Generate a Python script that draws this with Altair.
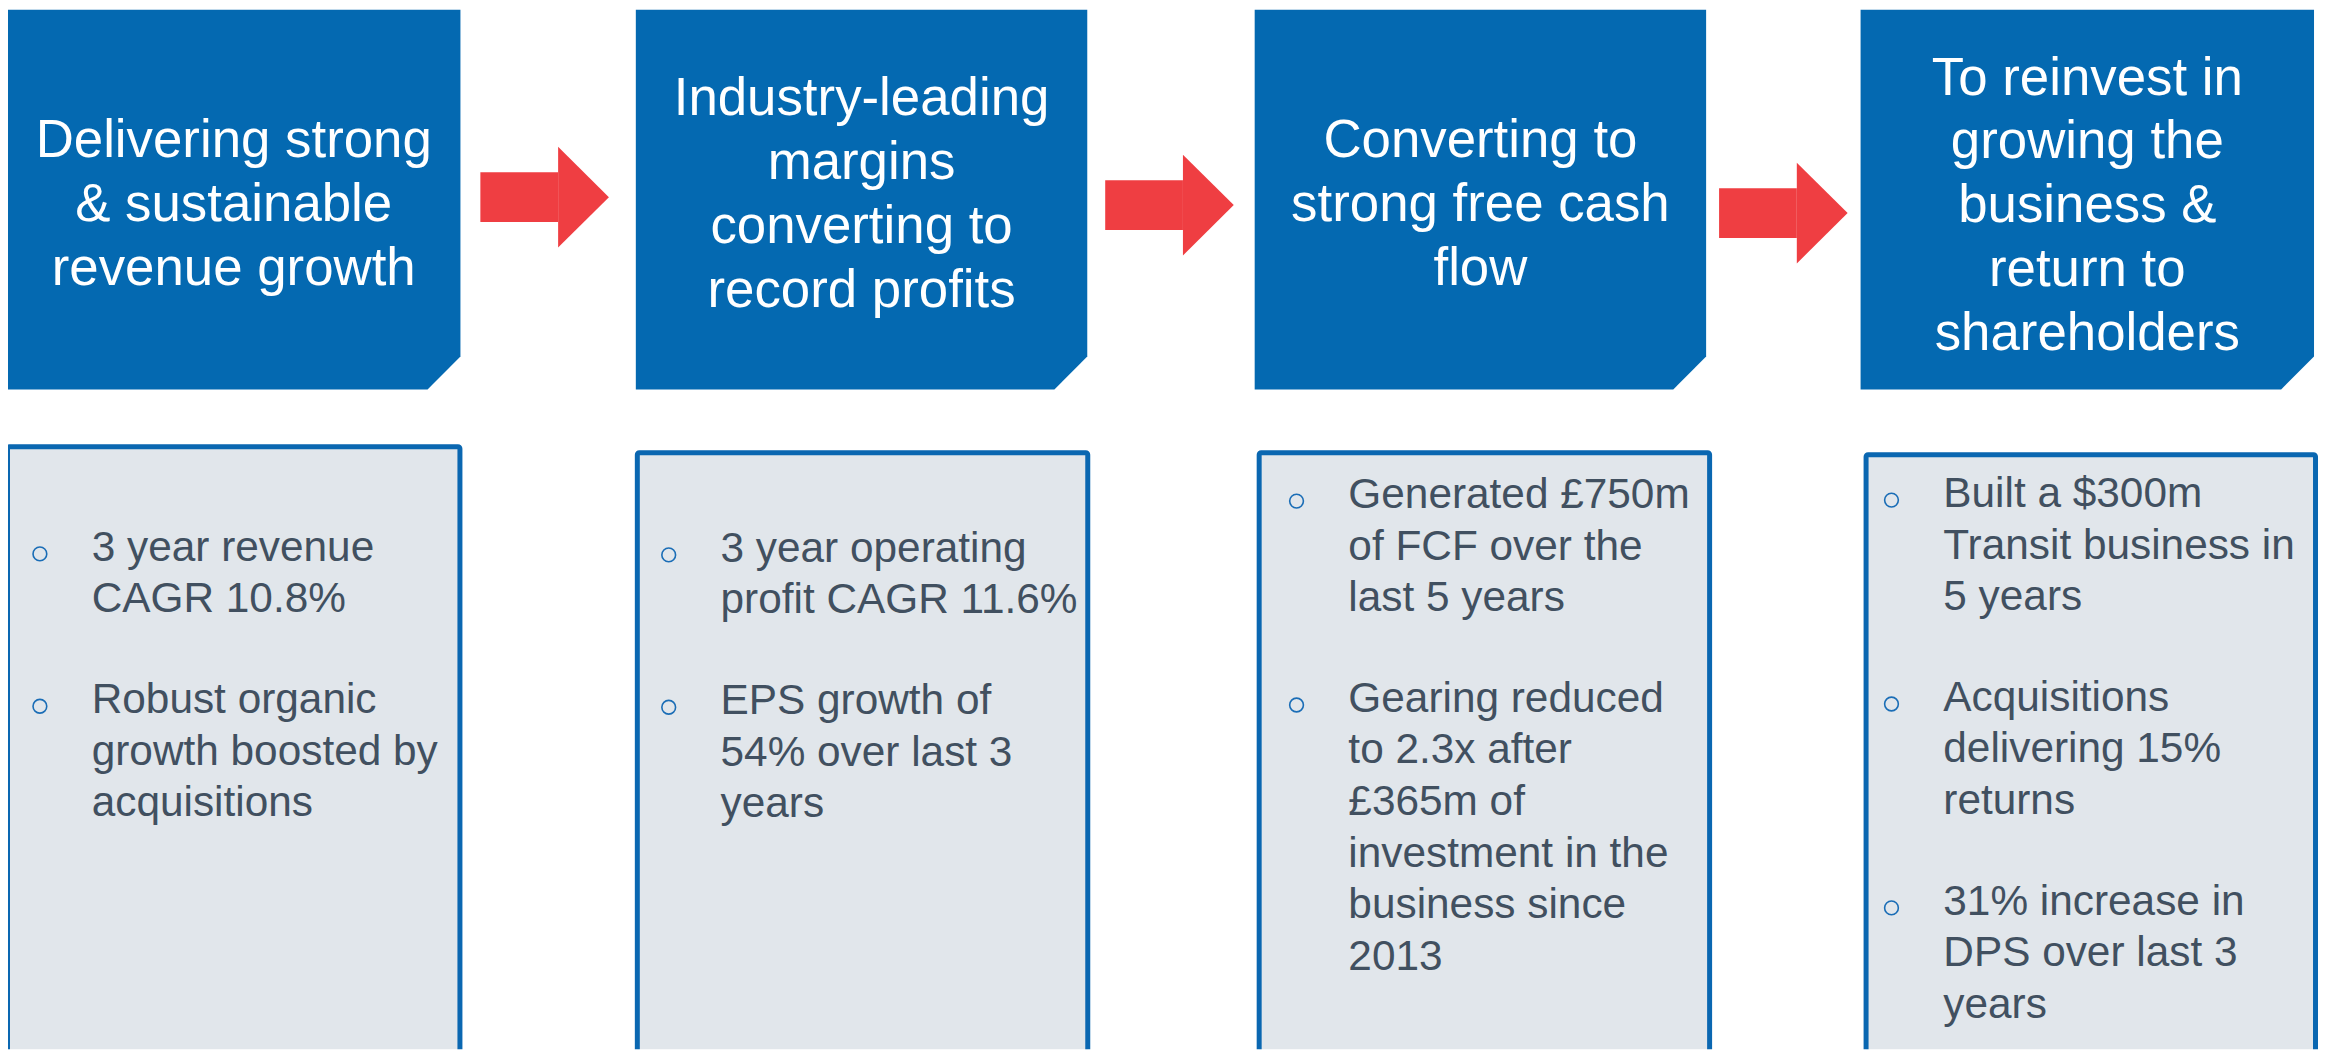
import altair as alt
import pandas as pd

# ---------------- content ----------------
headlines = [
    ["Delivering strong", "& sustainable", "revenue growth"],
    ["Industry-leading", "margins", "converting to", "record profits"],
    ["Converting to", "strong free cash", "flow"],
    ["To reinvest in", "growing the", "business &", "return to", "shareholders"],
]

bullets = [
    [["3 year revenue", "CAGR 10.8%"],
     ["Robust organic", "growth boosted by", "acquisitions"]],
    [["3 year operating", "profit CAGR 11.6%"],
     ["EPS growth of", "54% over last 3", "years"]],
    [["Generated £750m", "of FCF over the", "last 5 years"],
     ["Gearing reduced", "to 2.3x after", "£365m of", "investment in the",
      "business since", "2013"]],
    [["Built a $300m", "Transit business in", "5 years"],
     ["Acquisitions", "delivering 15%", "returns"],
     ["31% increase in", "DPS over last 3", "years"]],
]

# ---------------- layout (pixel space of the page) ----------------
W, H, M = 2328, 1051, 8
top_box_x0 = [7, 638, 1259, 1867]
top_box_x1 = [462, 1091, 1712, 2322]
TOP_Y0, TOP_Y1, CUT = 6, 389, 33
head_baseline0 = [156, 114, 156, 93]
HEAD_LH = 64

arrow_x0 = [482, 1109, 1725]
arrow_xh = [560, 1187, 1803]
arrow_xt = [611, 1238, 1854]
arrow_cy = [196, 204, 212]
SHAFT_H, HEAD_H = 25, 50.5

bot_x0 = [5, 637, 1261, 1870]
bot_x1 = [464, 1094, 1718, 2326]
bot_y0 = [444, 450, 450, 452]
BOT_SW = 5
bullet_x = [40, 671, 1301, 1898]
TEXT_INDENT = 52
body_baseline0 = [561, 562, 508, 507]
BODY_LH = 51.7
PARA_GAP = 49.5

BLUE = "#0469B1"
RED = "#EF3E42"
PANEL = "#E1E6EB"
PANEL_STROKE = "#0A67B1"
BODY_TEXT = "#415060"
BULLET = "#1A6DB6"
FONT = "Liberation Sans"

# ---------------- tables ----------------
top_rows = []
for i in range(4):
    x0, x1 = top_box_x0[i], top_box_x1[i]
    top_rows += [
        {"box": i, "x": x0, "yt": TOP_Y0, "yb": TOP_Y1},
        {"box": i, "x": x1 - CUT, "yt": TOP_Y0, "yb": TOP_Y1},
        {"box": i, "x": x1, "yt": TOP_Y0, "yb": TOP_Y1 - CUT},
    ]
top_df = pd.DataFrame(top_rows)

head_rows = []
for i, lines in enumerate(headlines):
    cx = (top_box_x0[i] + top_box_x1[i]) / 2
    for j, t in enumerate(lines):
        head_rows.append({"x": cx, "y": head_baseline0[i] + j * HEAD_LH, "t": t})
head_df = pd.DataFrame(head_rows)

shaft_df = pd.DataFrame({
    "x": arrow_x0, "x2": arrow_xh,
    "y": [c - SHAFT_H for c in arrow_cy], "y2": [c + SHAFT_H for c in arrow_cy],
})
tip_rows = []
for k in range(3):
    tip_rows += [
        {"a": k, "x": arrow_xh[k], "yt": arrow_cy[k] - HEAD_H, "yb": arrow_cy[k] + HEAD_H},
        {"a": k, "x": arrow_xt[k], "yt": arrow_cy[k], "yb": arrow_cy[k]},
    ]
tip_df = pd.DataFrame(tip_rows)

panel_df = pd.DataFrame({
    "x": [v + BOT_SW / 2 for v in bot_x0],
    "x2": [v - BOT_SW / 2 for v in bot_x1],
    "y": [v + BOT_SW / 2 for v in bot_y0],
    "y2": [H + 20] * 4,
})

body_rows, dot_rows = [], []
for i, paras in enumerate(bullets):
    yb = body_baseline0[i]
    for para in paras:
        dot_rows.append({"x": bullet_x[i], "y": yb - 7})
        for j, t in enumerate(para):
            body_rows.append({"x": bullet_x[i] + TEXT_INDENT, "y": yb + j * BODY_LH, "t": t})
        yb += len(para) * BODY_LH + PARA_GAP
body_df = pd.DataFrame(body_rows)
dot_df = pd.DataFrame(dot_rows)

# ---------------- scales ----------------
xs = alt.Scale(domain=[M, W], nice=False, zero=False)
ys = alt.Scale(domain=[M, H], nice=False, zero=False, reverse=True)
X = lambda f: alt.X(f, type="quantitative", scale=xs, axis=None)
Y = lambda f: alt.Y(f, type="quantitative", scale=ys, axis=None)

top_boxes = alt.Chart(top_df).mark_area(color=BLUE, clip=True).encode(
    x=X("x"), y=Y("yt"), y2="yb:Q", detail="box:N"
)
head_text = alt.Chart(head_df).mark_text(
    align="center", baseline="alphabetic", font=FONT, fontSize=53, color="white"
).encode(x=X("x"), y=Y("y"), text="t:N")

shafts = alt.Chart(shaft_df).mark_rect(color=RED).encode(
    x=X("x"), x2="x2:Q", y=Y("y"), y2="y2:Q"
)
tips = alt.Chart(tip_df).mark_area(color=RED).encode(
    x=X("x"), y=Y("yt"), y2="yb:Q", detail="a:N"
)

panels = alt.Chart(panel_df).mark_rect(
    fill=PANEL, stroke=PANEL_STROKE, strokeWidth=BOT_SW, cornerRadius=2, clip=True
).encode(x=X("x"), x2="x2:Q", y=Y("y"), y2="y2:Q")

dots = alt.Chart(dot_df).mark_point(
    shape="circle", filled=False, size=190, strokeWidth=1.6, color=BULLET, opacity=1
).encode(x=X("x"), y=Y("y"))

body_text = alt.Chart(body_df).mark_text(
    align="left", baseline="alphabetic", font=FONT, fontSize=42.5, color=BODY_TEXT
).encode(x=X("x"), y=Y("y"), text="t:N")

chart = alt.layer(
    top_boxes, head_text, shafts, tips, panels, dots, body_text
).properties(
    width=W - M, height=H - M, padding=0, autosize=alt.AutoSizeParams(type="none"),
    background="white",
).configure_view(strokeWidth=0)

chart.save("out.html", embed_options={"renderer": "svg", "actions": False})
